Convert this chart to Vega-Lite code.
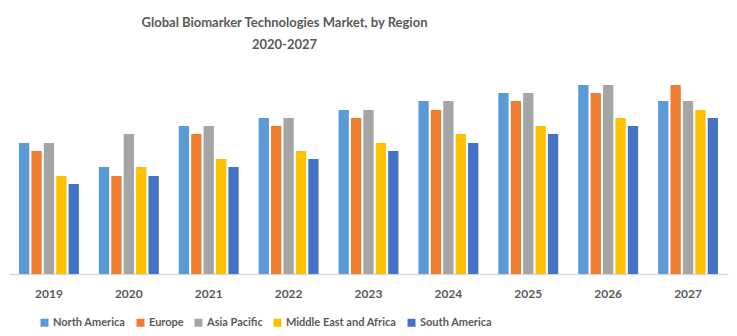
{
  "$schema": "https://vega.github.io/schema/vega-lite/v6.json",
  "width": 719,
  "height": 209,
  "autosize": "none",
  "padding": {"left": 9, "top": 65, "right": 9, "bottom": 62},
  "background": "white",
  "title": {
    "text": ["Global Biomarker Technologies Market, by Region", "2020-2027"],
    "anchor": "middle",
    "dx": -84,
    "offset": 13,
    "font": "Lato",
    "fontSize": 13,
    "fontWeight": "bold",
    "color": "#595959",
    "lineHeight": 22
  },
  "data": {
    "values": [
      {"year": "2019", "region": "North America", "value": 131},
      {"year": "2019", "region": "Europe", "value": 123},
      {"year": "2019", "region": "Asia Pacific", "value": 131},
      {"year": "2019", "region": "Middle East and Africa", "value": 98},
      {"year": "2019", "region": "South America", "value": 90},
      {"year": "2020", "region": "North America", "value": 107},
      {"year": "2020", "region": "Europe", "value": 98},
      {"year": "2020", "region": "Asia Pacific", "value": 140},
      {"year": "2020", "region": "Middle East and Africa", "value": 107},
      {"year": "2020", "region": "South America", "value": 98},
      {"year": "2021", "region": "North America", "value": 148},
      {"year": "2021", "region": "Europe", "value": 140},
      {"year": "2021", "region": "Asia Pacific", "value": 148},
      {"year": "2021", "region": "Middle East and Africa", "value": 115},
      {"year": "2021", "region": "South America", "value": 107},
      {"year": "2022", "region": "North America", "value": 156},
      {"year": "2022", "region": "Europe", "value": 148},
      {"year": "2022", "region": "Asia Pacific", "value": 156},
      {"year": "2022", "region": "Middle East and Africa", "value": 123},
      {"year": "2022", "region": "South America", "value": 115},
      {"year": "2023", "region": "North America", "value": 164},
      {"year": "2023", "region": "Europe", "value": 156},
      {"year": "2023", "region": "Asia Pacific", "value": 164},
      {"year": "2023", "region": "Middle East and Africa", "value": 131},
      {"year": "2023", "region": "South America", "value": 123},
      {"year": "2024", "region": "North America", "value": 173},
      {"year": "2024", "region": "Europe", "value": 164},
      {"year": "2024", "region": "Asia Pacific", "value": 173},
      {"year": "2024", "region": "Middle East and Africa", "value": 140},
      {"year": "2024", "region": "South America", "value": 131},
      {"year": "2025", "region": "North America", "value": 181},
      {"year": "2025", "region": "Europe", "value": 173},
      {"year": "2025", "region": "Asia Pacific", "value": 181},
      {"year": "2025", "region": "Middle East and Africa", "value": 148},
      {"year": "2025", "region": "South America", "value": 140},
      {"year": "2026", "region": "North America", "value": 189},
      {"year": "2026", "region": "Europe", "value": 181},
      {"year": "2026", "region": "Asia Pacific", "value": 189},
      {"year": "2026", "region": "Middle East and Africa", "value": 156},
      {"year": "2026", "region": "South America", "value": 148},
      {"year": "2027", "region": "North America", "value": 173},
      {"year": "2027", "region": "Europe", "value": 189},
      {"year": "2027", "region": "Asia Pacific", "value": 173},
      {"year": "2027", "region": "Middle East and Africa", "value": 164},
      {"year": "2027", "region": "South America", "value": 156}
    ]
  },
  "mark": {"type": "bar"},
  "encoding": {
    "x": {
      "field": "year",
      "type": "nominal",
      "sort": null,
      "scale": {"paddingInner": 0.25, "paddingOuter": 0.125},
      "axis": {
        "title": null,
        "ticks": false,
        "domainColor": "#D9D9D9",
        "domainWidth": 1.5,
        "labelAngle": 0,
        "labelPadding": 14,
        "labelFont": "Lato",
        "labelFontSize": 12,
        "labelFontWeight": "bold",
        "labelColor": "#595959",
        "grid": false
      }
    },
    "xOffset": {
      "field": "region",
      "type": "nominal",
      "sort": ["North America", "Europe", "Asia Pacific", "Middle East and Africa", "South America"],
      "scale": {"paddingInner": 0.17, "paddingOuter": 0}
    },
    "y": {
      "field": "value",
      "type": "quantitative",
      "scale": {"domain": [0, 209], "nice": false},
      "axis": null
    },
    "color": {
      "field": "region",
      "type": "nominal",
      "sort": ["North America", "Europe", "Asia Pacific", "Middle East and Africa", "South America"],
      "scale": {
        "domain": ["North America", "Europe", "Asia Pacific", "Middle East and Africa", "South America"],
        "range": ["#5B9BD5", "#ED7D31", "#A5A5A5", "#FFC000", "#4472C4"]
      },
      "legend": {
        "title": null,
        "orient": "none",
        "direction": "horizontal",
        "legendX": 30,
        "legendY": 252,
        "symbolType": "square",
        "symbolSize": 64,
        "symbolStrokeWidth": 0,
        "labelFont": "Lato",
        "labelFontSize": 11,
        "labelFontWeight": "bold",
        "labelColor": "#595959",
        "labelOffset": 3,
        "columnPadding": 9
      }
    }
  },
  "config": {"view": {"stroke": null}}
}
